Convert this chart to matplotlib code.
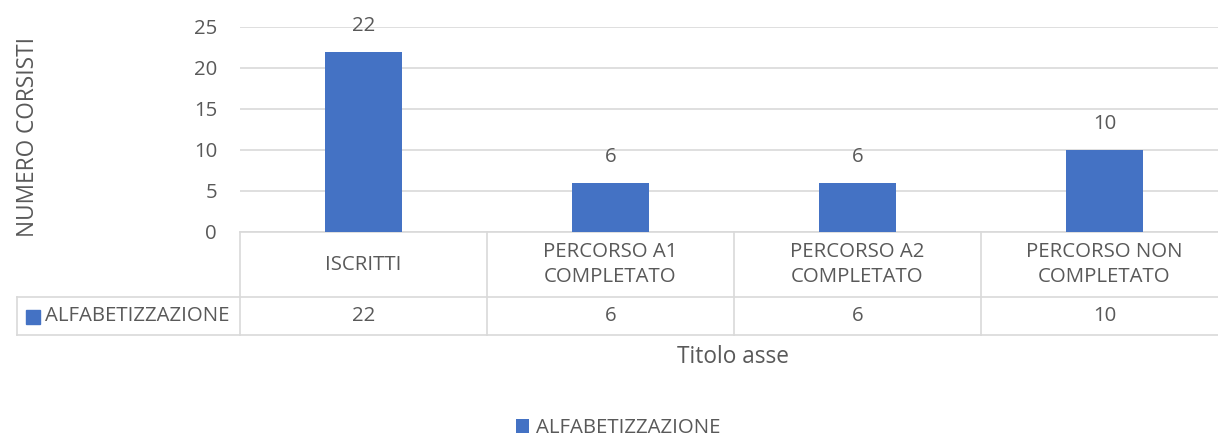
import matplotlib
matplotlib.use("Agg")
import matplotlib.pyplot as plt
from matplotlib.patches import Rectangle
import matplotlib.transforms as mtransforms

categories = ["ISCRITTI", "PERCORSO A1\nCOMPLETATO", "PERCORSO A2\nCOMPLETATO", "PERCORSO NON\nCOMPLETATO"]
values = [22, 6, 6, 10]
series_name = "ALFABETIZZAZIONE"
y_ticks = [0, 5, 10, 15, 20, 25]
y_label = "NUMERO CORSISTI"
x_label = "Titolo asse"

BAR = "#4472C4"
TXT = "#595959"
GRID = "#D9D9D9"
FONT = "Open Sans"
FS = 14.7
FT = 16.3

W, H = 1218, 437
fig = plt.figure(figsize=(W / 100, H / 100), dpi=100)
plt.rcParams['font.family'] = [FONT, 'DejaVu Sans']

x0, x1, ytop, ybot = 240, 1228, 27, 232
ax = fig.add_axes([x0 / W, 1 - ybot / H, (x1 - x0) / W, (ybot - ytop) / H])
xs = list(range(len(values)))
bars = ax.bar(xs, values, width=0.31, color=BAR, zorder=3, label=series_name)
ax.set_xlim(-0.5, len(values) - 0.5)
ax.set_ylim(0, 25)
ax.set_yticks(y_ticks)
ax.set_yticklabels([str(t) for t in y_ticks], color=TXT, fontsize=FS)
ax.tick_params(axis='y', length=0, pad=16.5)
ax.set_xticks([])
for s in ax.spines.values():
    s.set_visible(False)
ax.grid(axis='y', color=GRID, linewidth=1.2, zorder=0)

for xi, v in zip(xs, values):
    ax.annotate(str(v), (xi, v), xytext=(0, 18.5), textcoords='offset points',
                ha='center', va='center', color=TXT, fontsize=FS)

# data table below axes
bt = mtransforms.blended_transform_factory(ax.transData, ax.transAxes)
hpx = ybot - ytop
r1 = -(297 - ybot) / hpx
r2 = -(335 - ybot) / hpx
xleft = (17 - x0) / (x1 - x0)
lk = dict(color=GRID, linewidth=1.2, clip_on=False, zorder=1)
ax.plot([0, 1], [0, 0], transform=ax.transAxes, **lk)
ax.plot([xleft, 1], [r1, r1], transform=ax.transAxes, **lk)
ax.plot([xleft, 1], [r2, r2], transform=ax.transAxes, **lk)
ax.plot([xleft, xleft], [r1, r2], transform=ax.transAxes, **lk)
for b in range(len(values) + 1):
    ax.plot([b - 0.5, b - 0.5], [0, r2], transform=bt, **lk)

for xi, c, v in zip(xs, categories, values):
    ax.text(xi, r1 / 2, c, transform=bt, ha='center', va='center',
            color=TXT, fontsize=FS, linespacing=1.28)
    ax.text(xi, (r1 + r2) / 2, str(v), transform=bt, ha='center', va='center',
            color=TXT, fontsize=FS)

ax.text((45 - x0) / (x1 - x0), (r1 + r2) / 2, series_name, transform=ax.transAxes,
        ha='left', va='center', color=TXT, fontsize=FS)
fig.patches.append(Rectangle((26 / W, 1 - 324 / H), 14 / W, 14 / H,
                             transform=fig.transFigure, color=BAR))

fig.text(28 / W, 1 - 137 / H, y_label, rotation=90, ha='center', va='center',
         color=TXT, fontsize=FT)
fig.text(733 / W, 1 - 357 / H, x_label, ha='center', va='center',
         color=TXT, fontsize=FT)

leg = fig.legend(handles=[bars], labels=[series_name], loc='center',
                 bbox_to_anchor=(618 / W, 1 - 428 / H), frameon=False,
                 fontsize=FS, handlelength=0.65, handleheight=0.65,
                 handletextpad=0.35, labelcolor=TXT)

fig.savefig("out.png", dpi=100)
